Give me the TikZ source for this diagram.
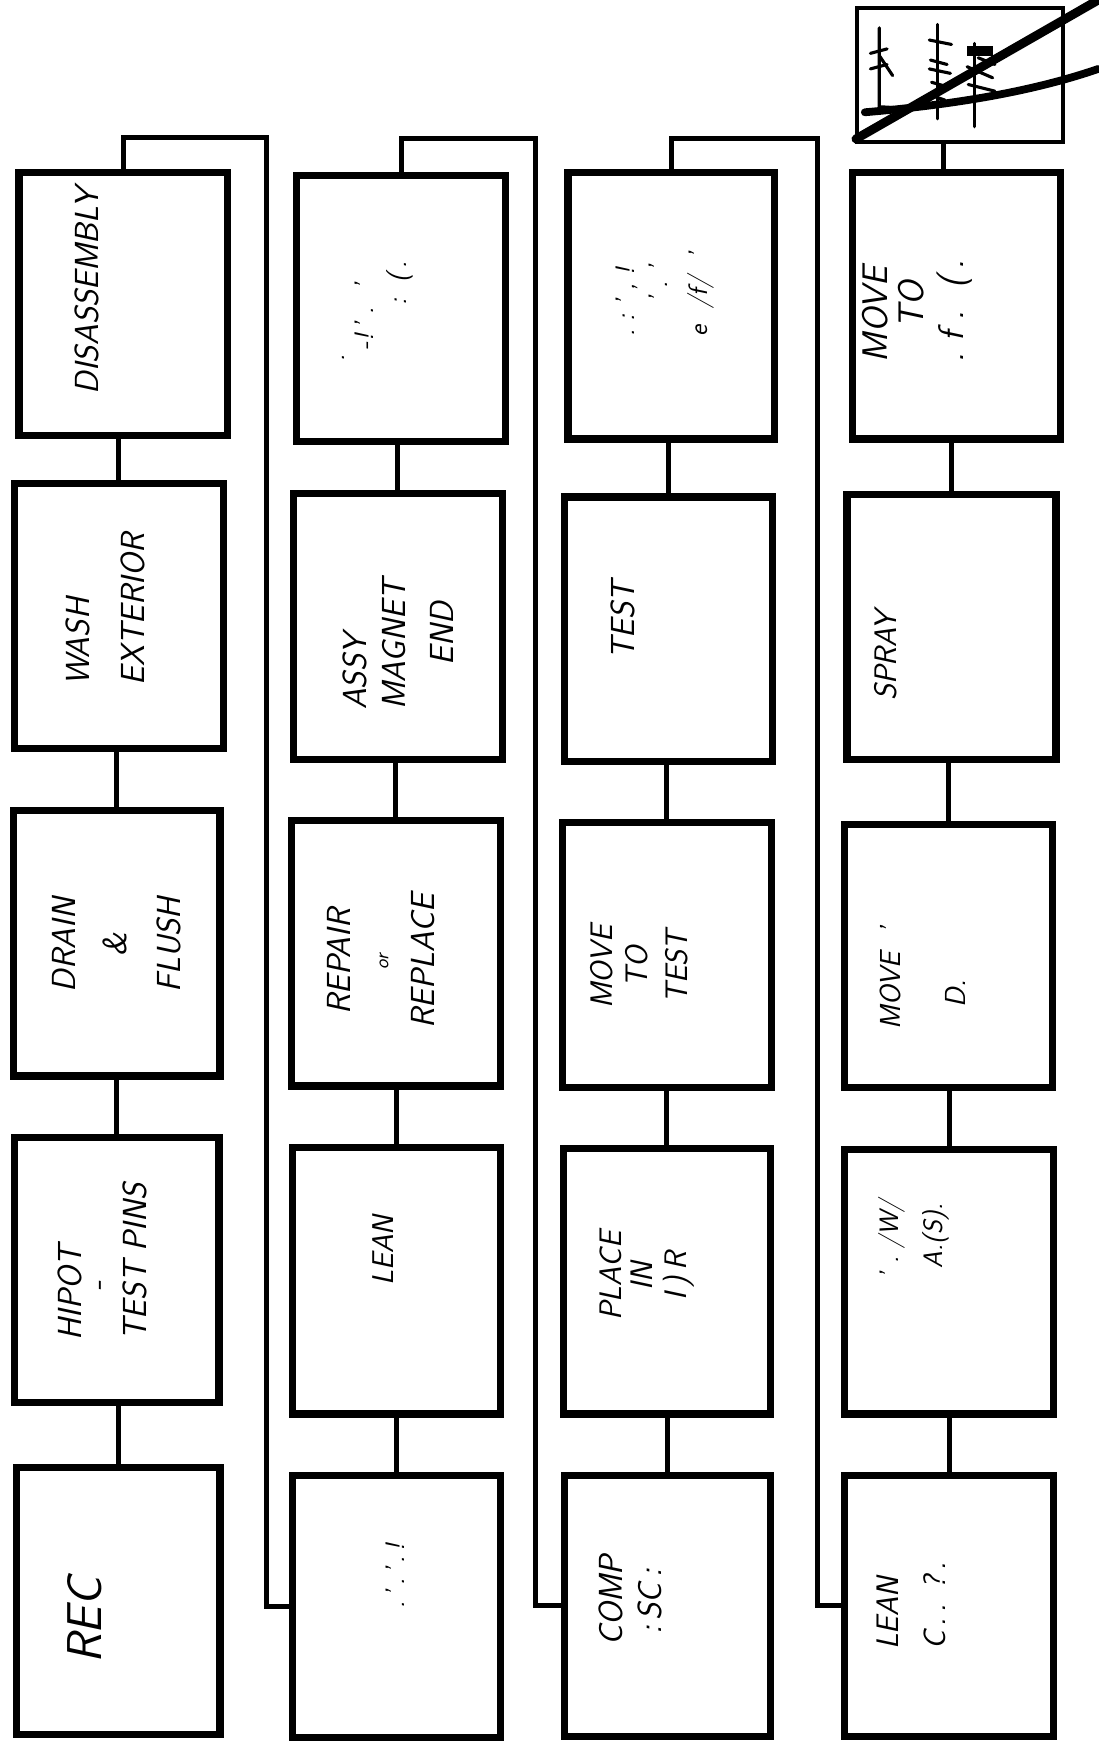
\documentclass[tikz,border=0pt]{standalone}
\newcommand\mkbox[5]{\node[box, minimum width={(#4-#2)*1pt}, minimum height={(#5-#3)*1pt}] (#1) at ({(#2+#4)/2},{(#3+#5)/2}) {};}
\begin{document}
\begin{tikzpicture}[x=1pt,y=-1pt,
  box/.style={draw, line width=6.5pt, rectangle, inner sep=0pt},
  wire/.style={line width=4.5pt},
  lbl/.style={rotate=90, inner sep=0pt, font=\sffamily\slshape\fontsize{30}{50}\selectfont},
  lbls/.style={rotate=90, inner sep=0pt, font=\sffamily\slshape\fontsize{24}{36}\selectfont},
  ink/.style={line width=2.8pt, line cap=round},
  cross/.style={line width=8pt, line cap=round}]
\useasboundingbox (0,0) rectangle (988,1568);
% boxes
\mkbox{c1a}{15}{1320}{198}{1560}
\mkbox{c1b}{13}{1023}{197}{1262}
\mkbox{c1c}{12}{729}{198}{968}
\mkbox{c1d}{13}{435}{201}{673}
\mkbox{c1e}{17}{155}{205}{392}
\mkbox{c2a}{263}{1327}{450}{1563}
\mkbox{c2b}{263}{1032}{450}{1272}
\mkbox{c2c}{262}{738}{450}{977}
\mkbox{c2d}{264}{444}{452}{683}
\mkbox{c2e}{267}{158}{455}{397}
\mkbox{c3a}{508}{1327}{693}{1562}
\mkbox{c3b}{507}{1033}{693}{1272}
\mkbox{c3c}{506}{740}{694}{978}
\mkbox{c3d}{508}{447}{695}{685}
\mkbox{c3e}{511}{155}{697}{395}
\mkbox{c4a}{760}{1327}{948}{1562}
\mkbox{c4b}{760}{1034}{948}{1272}
\mkbox{c4c}{760}{742}{947}{978}
\mkbox{c4d}{762}{445}{950}{683}
\mkbox{c4e}{767}{155}{954}{395}
\node[box, line width=3.5pt, minimum width=185pt, minimum height=121pt] (c4f) at (863.5,67.5) {};
% column connectors
\draw[wire] (c1a.north) -- (c1a.north |- c1b.south);
\draw[wire] (c1b.north) -- (c1b.north |- c1c.south);
\draw[wire] (c1c.north) -- (c1c.north |- c1d.south);
\draw[wire] (c1d.north) -- (c1d.north |- c1e.south);
\draw[wire] (c2a.north) -- (c2a.north |- c2b.south);
\draw[wire] (c2b.north) -- (c2b.north |- c2c.south);
\draw[wire] (c2c.north) -- (c2c.north |- c2d.south);
\draw[wire] (c2d.north) -- (c2d.north |- c2e.south);
\draw[wire] (c3a.north) -- (c3a.north |- c3b.south);
\draw[wire] (c3b.north) -- (c3b.north |- c3c.south);
\draw[wire] (c3c.north) -- (c3c.north |- c3d.south);
\draw[wire] (c3d.north) -- (c3d.north |- c3e.south);
\draw[wire] (c4a.north) -- (c4a.north |- c4b.south);
\draw[wire] (c4b.north) -- (c4b.north |- c4c.south);
\draw[wire] (c4c.north) -- (c4c.north |- c4d.south);
\draw[wire] (c4d.north) -- (c4d.north |- c4e.south);
\draw[wire] ([xshift=-15pt]c4f.south) -- ([xshift=-15pt]c4f.south |- c4e.north);
% loops between columns
\coordinate (k1) at (240,124);
\coordinate (k2) at (482,125);
\coordinate (k3) at (735,125);
\draw[wire] (c1e.north) |- (k1) |- (c2a.west);
\draw[wire] (c2e.north) |- (k2) |- (c3a.west);
\draw[wire] (c3e.north) |- (k3) |- (c4a.west);
% labels column 1
\node[lbl] (t1e) at (78,262) {DISASSEMBLY};
\node[lbl, align=left] (t1d) at (95,548) {WASH\\EXTERIOR};
\node[lbl, align=center] (t1c) at (105,850) {DRAIN\\[-4pt]\&\\[-2pt]FLUSH};
\node[lbl, align=left] (t1b) at (92,1135) {HIPOT\\[-27pt]\hspace*{44pt}-\\[-15pt]TEST PINS};
\node[lbl, font=\sffamily\slshape\fontsize{44}{50}\selectfont] (t1a) at (76,1458) {REC};
% labels column 2
\node[lbls] (t2a) at (356,1418) {.\,'\,.\,'\,.\,!};
\node[lbl, font=\sffamily\slshape\fontsize{27}{40}\selectfont] (t2b) at (345,1125) {LEAN};
\node[lbl, align=center] (t2c) at (343,865) {REPAIR\\[-16pt]{\fontsize{18}{20}\selectfont or}\\[-8pt]REPLACE};
\node[lbl, align=left] (t2d) at (358,580) {ASSY\\[-15pt]MAGNET\\[-7pt]\hspace*{40pt}END};
\node[lbls, align=left] (t2e) at (340,280) {.\\[-10pt]\hspace*{10pt}-!\,'\ .\ \ '\\[-6pt]\hspace*{50pt}:\ \ (\,.};
% labels column 3
\node[lbl, align=left] (t3a) at (567,1440) {COMP\\[-15pt]\hspace*{10pt}:\,SC\,:};
\node[lbl, align=center, font=\sffamily\slshape\fontsize{28}{50}\selectfont] (t3b) at (582,1148) {PLACE\\[-22pt]IN\\[-20pt]I\,)\,R};
\node[lbl, align=center, font=\sffamily\slshape\fontsize{28}{50}\selectfont] (t3c) at (575,870) {MOVE\\[-18pt]TO\\[-14pt]TEST};
\node[lbl] (t3d) at (560,558) {TEST};
\node[lbls, align=left] (t3e) at (598,265) {.\ :\ '\ ,\ !\\[-6pt]\hspace*{30pt}'\ .\ '\\[0pt]e\ \ /f/\ \ '};
% labels column 4
\node[lbl, align=left, font=\sffamily\slshape\fontsize{28}{50}\selectfont] (t4a) at (820,1445) {LEAN\\[-8pt]C\,.\,.\ \,?\,.};
\node[lbls, align=left] (t4b) at (822,1115) {'\ .\ /W/\\[4pt]\hspace*{10pt}A.(S).};
\node[lbl, align=left, font=\sffamily\slshape\fontsize{26}{50}\selectfont] (t4c) at (830,880) {MOVE\ \ '\\[8pt]\hspace*{20pt}D.};
\node[lbl, font=\sffamily\slshape\fontsize{28}{50}\selectfont] (t4d) at (797,590) {SPRAY};
\node[lbl, align=left, font=\sffamily\slshape\fontsize{32}{50}\selectfont] (t4e) at (825,280) {MOVE\\[-18pt]\hspace*{30pt}TO\\[-14pt].\ f\ .\ \ (\,.};
% crossed-out sketch in the top box
\draw[ink] (791,25) -- (791,96) -- (808,97);
\draw[ink] (783,48) -- (798,44);
\draw[ink] (783,62) -- (798,58);
\draw[ink] (791,50) -- (803,68);
\draw[ink] (843,22) -- (843,107);
\draw[ink] (836,36) -- (856,40);
\draw[ink] (837,54) -- (852,58);
\draw[ink] (836,62) -- (855,66);
\draw[ink] (838,74) -- (852,78);
\draw[ink] (838,86) -- (850,90);
\draw[ink] (877,39) -- (877,114);
\fill (870,41) rectangle (893,50);
\draw[ink] (870,60) -- (893,70);
\draw[ink] (871,76) -- (895,82);
\draw[ink] (880,52) -- (895,58);
\draw[cross] (770,125) -- (988,0);
\draw[line width=7pt, line cap=round] (778,101) .. controls (860,94) and (930,82) .. (988,62);
\end{tikzpicture}
\end{document}
